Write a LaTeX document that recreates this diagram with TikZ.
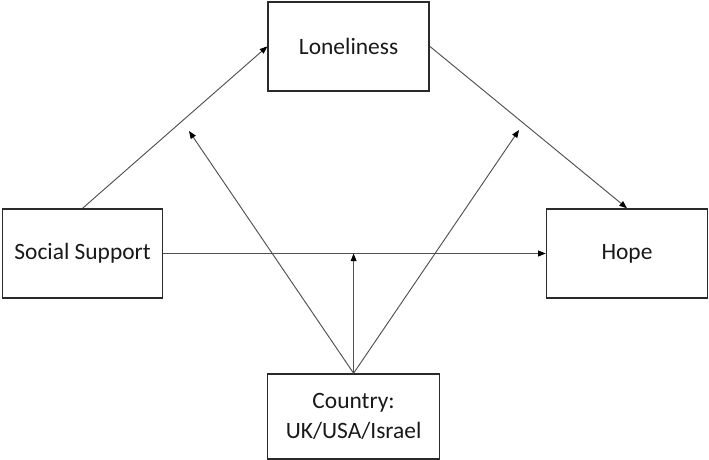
\documentclass[tikz,border=0pt]{standalone}
\usepackage{fontspec}
\setmainfont{Carlito}
\usetikzlibrary{arrows.meta,positioning,calc}
\definecolor{boxdark}{HTML}{2A2A2A}
\definecolor{linegray}{HTML}{505050}
\tikzset{
  var/.style={draw=boxdark, fill=white, line width=1.3pt, inner sep=0pt,
    align=center, font=\fontsize{20}{25}\selectfont, text=black!90},
  path/.style={-{Triangle[length=6.5pt,width=5pt,fill=black,color=black]}, line width=0.8pt, color=linegray},
}
\begin{document}
\begin{tikzpicture}[x=0.03cm,y=-0.03cm]
  \useasboundingbox (0,0) rectangle (709,460);
  % variables
  \node[var, minimum width=161*0.03cm, minimum height=89*0.03cm] (lone) at (348.6,46.4) {Loneliness};
  \node[var, minimum width=160*0.03cm, minimum height=89*0.03cm] (soc) at (82.6,253.5) {Social Support};
  \node[var, minimum width=161*0.03cm, minimum height=89*0.03cm] (hope) at (627,253.5) {Hope};
  \node[var, minimum width=172*0.03cm, minimum height=85*0.03cm] (ctry) at (353.6,416.5) {Country:\\UK/USA/Israel};
  % moderation targets
  \coordinate (modA) at (189,131);
  \coordinate (modB) at (519,130);
  \coordinate (modC) at (ctry.north |- soc.east);
  % main paths
  \draw[path] (soc.north) -- (lone.west);
  \draw[path] (lone.east) -- (hope.north);
  \draw[path] (soc.east) -- (hope.west);
  % moderator
  \foreach \m in {modA,modB,modC} {
    \draw[path] (ctry.north) -- (\m);
  }
\end{tikzpicture}
\end{document}
